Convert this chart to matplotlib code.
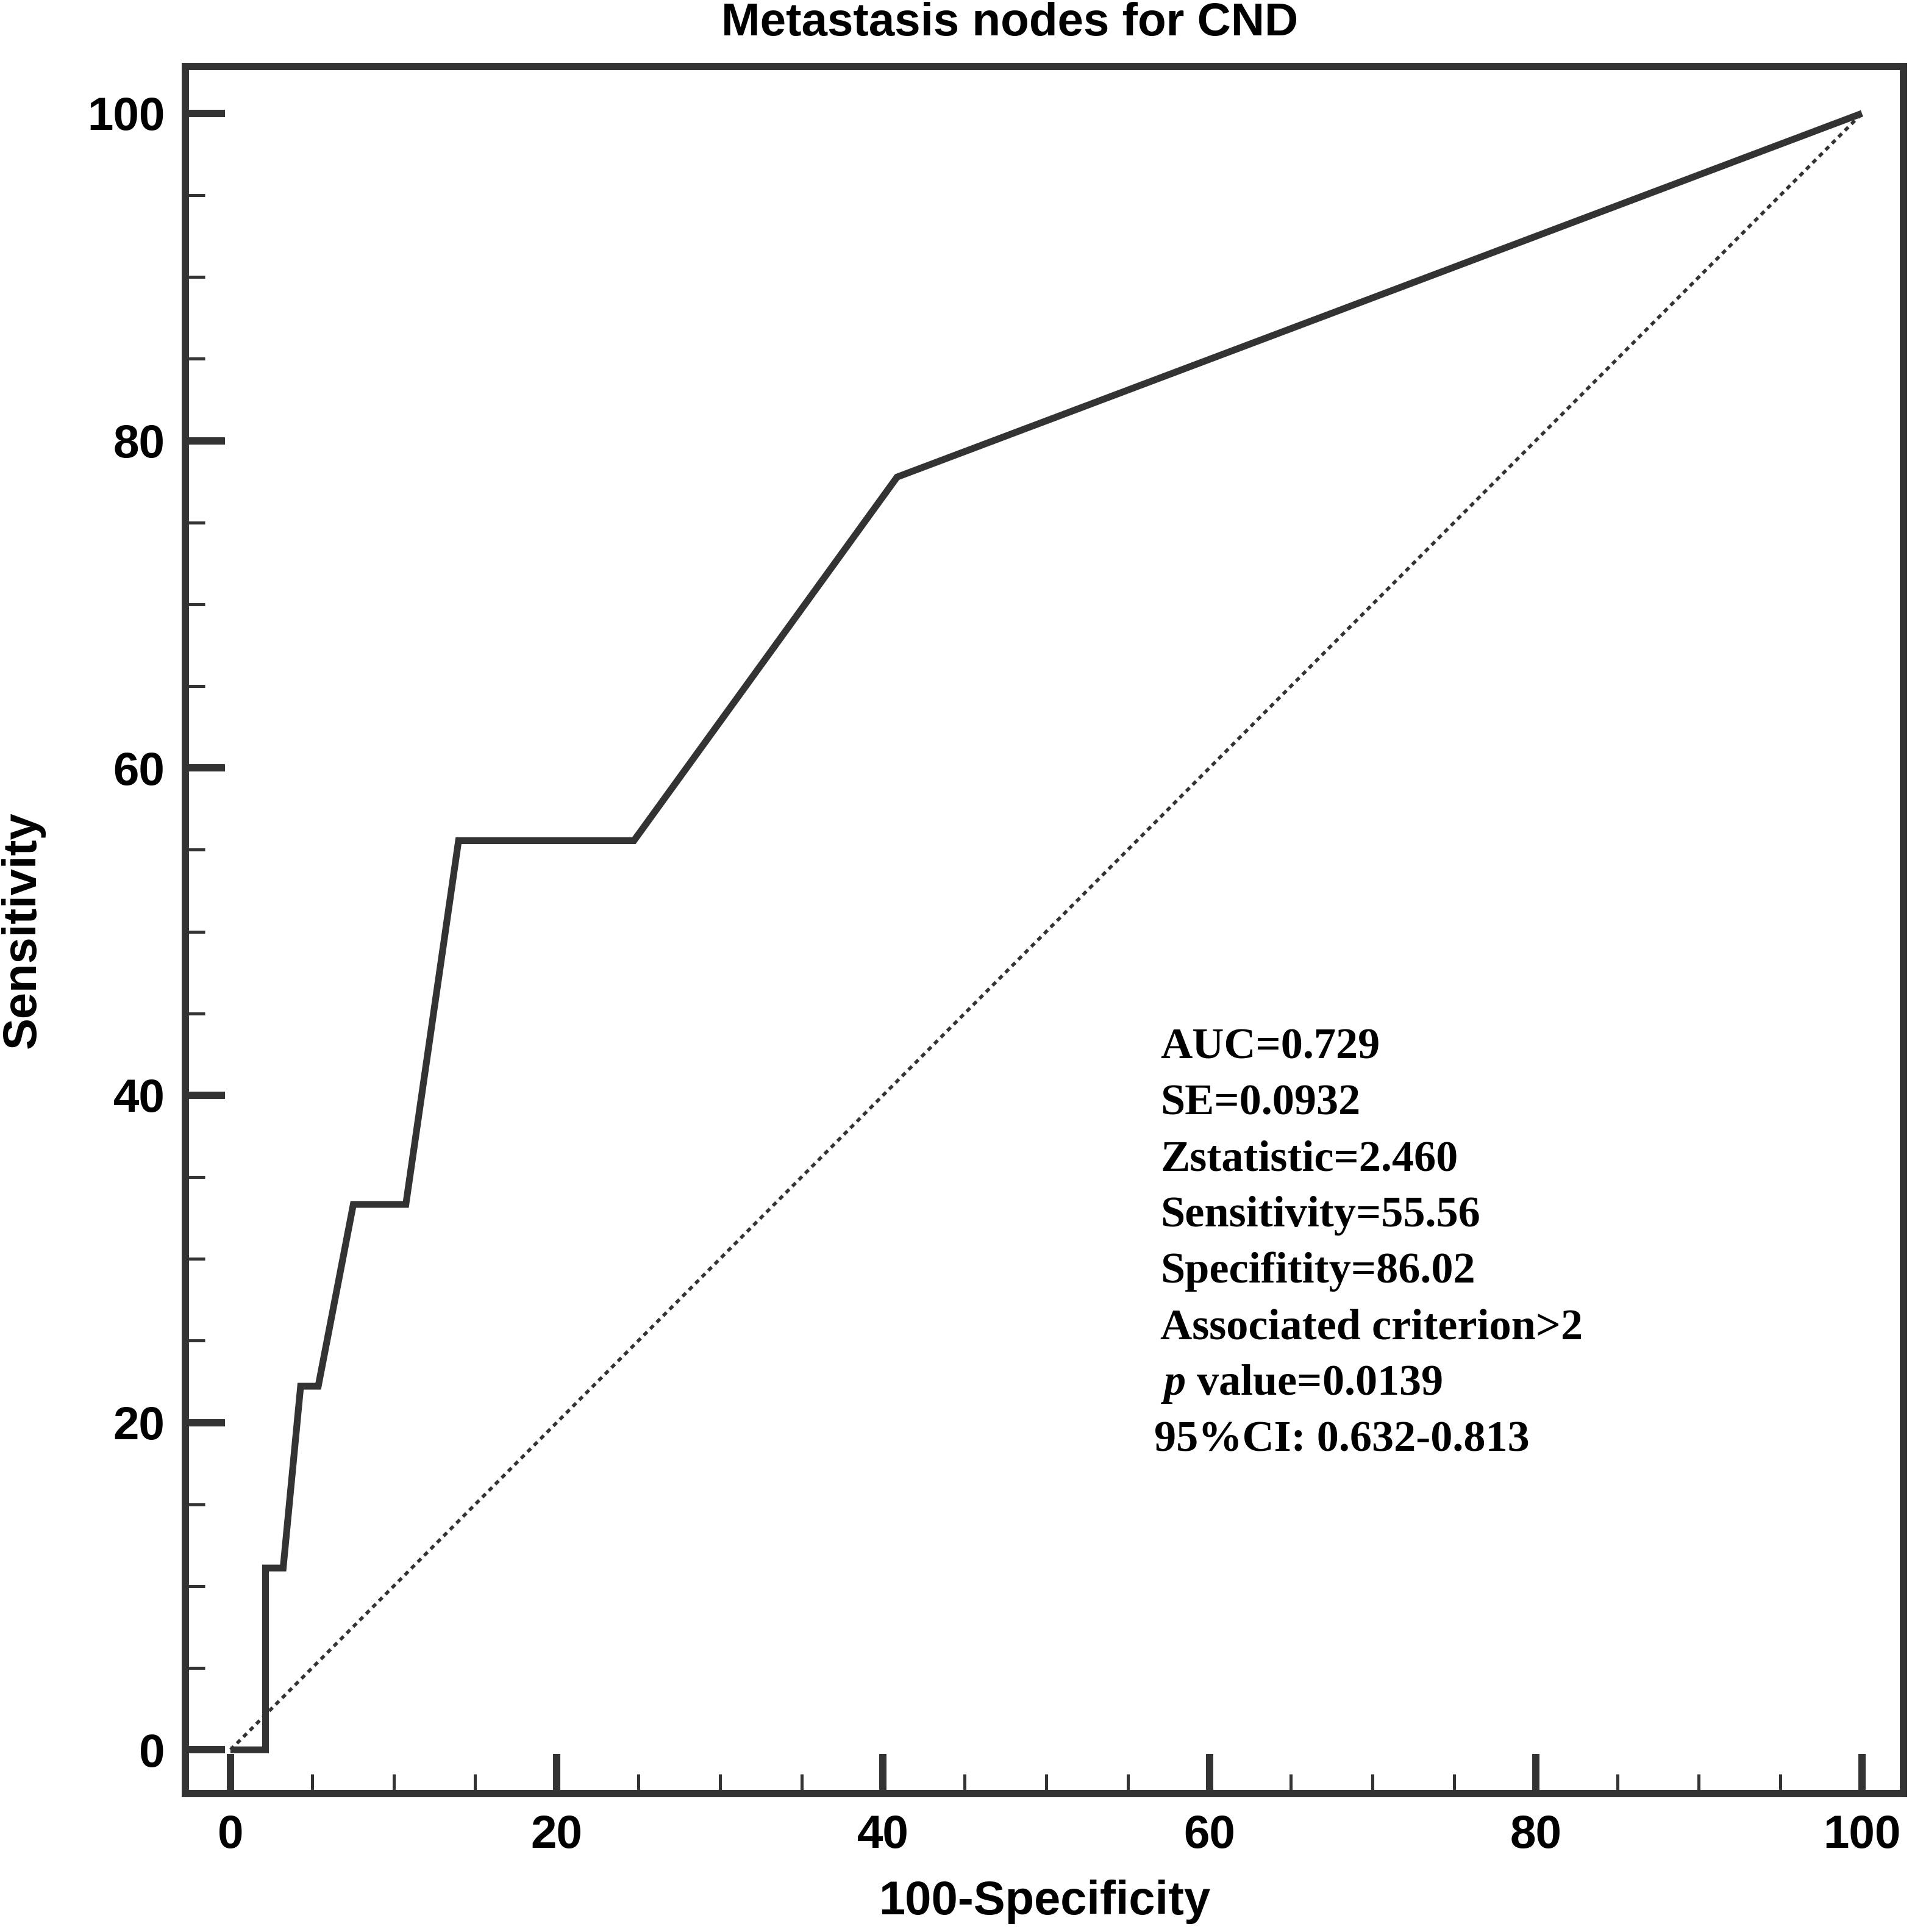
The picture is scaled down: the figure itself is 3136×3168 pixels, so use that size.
import numpy as np
import matplotlib
matplotlib.use("Agg")
import matplotlib.pyplot as plt
from matplotlib.ticker import MultipleLocator

# ROC points (100-Specificity, Sensitivity)
fpr = [0, 2.15, 2.15, 3.23, 4.30, 5.38, 7.53, 10.75, 13.98, 24.73, 40.86, 100]
sens = [0, 0, 11.11, 11.11, 22.22, 22.22, 33.33, 33.33, 55.56, 55.56, 77.78, 100]
ref_line = [0, 100]

title = "Metastasis nodes for CND"
xlabel = "100-Specificity"
ylabel = "Sensitivity"
major_ticks = [0, 20, 40, 60, 80, 100]
stats_lines = [
    "AUC=0.729",
    "SE=0.0932",
    "Zstatistic=2.460",
    "Sensitivity=55.56",
    "Specifitity=86.02",
    "Associated criterion>2",
    r"$p$ value=0.0139",
    "95%CI: 0.632-0.813",
]

plt.rcParams["mathtext.fontset"] = "custom"
plt.rcParams["mathtext.it"] = "Liberation Serif:italic:bold"
plt.rcParams["mathtext.rm"] = "Liberation Serif:bold"

dark = "#333333"
sans = "Liberation Sans"

fig = plt.figure(figsize=(31.36, 31.68), dpi=100)
ax = fig.add_axes([0.0969, 0.0716, 0.8986, 0.894])

ax.plot(ref_line, ref_line, color=dark, lw=4.0, linestyle=(0, (1.4, 1.3)))
ax.plot(fpr, sens, color=dark, lw=8.0, solid_joinstyle="miter", solid_capstyle="butt")

ax.set_xlim(-2.77, 102.54)
ax.set_ylim(-2.68, 102.87)

for s in ax.spines.values():
    s.set_linewidth(8.6)
    s.set_color(dark)

ax.set_xticks(major_ticks)
ax.set_yticks(major_ticks)
ax.xaxis.set_minor_locator(MultipleLocator(5))
ax.yaxis.set_minor_locator(MultipleLocator(5))
ax.tick_params(which="major", direction="in", length=47, width=8.6, color=dark,
               pad=24, labelsize=55)
ax.tick_params(which="minor", direction="in", length=23, width=3.6, color=dark)
for lab in ax.get_xticklabels() + ax.get_yticklabels():
    lab.set_fontfamily(sans)
    lab.set_fontweight("bold")

ax.set_xlabel(xlabel, fontsize=56, fontweight="bold", family=sans, labelpad=26)
ax.set_ylabel(ylabel, fontsize=56, fontweight="bold", family=sans, labelpad=50)

fig.text(0.528, 1 - 58 / 3168, title, ha="center", va="baseline",
         fontsize=55, fontweight="bold", family=sans)

for i, line in enumerate(stats_lines):
    x0 = 56.6 if line.startswith("95") else 57.0
    ax.text(x0, 42.27 - i * 3.43, line, fontsize=52, fontweight="bold",
            family="Liberation Serif", va="baseline", ha="left")

fig.savefig("out.png", dpi=100)
